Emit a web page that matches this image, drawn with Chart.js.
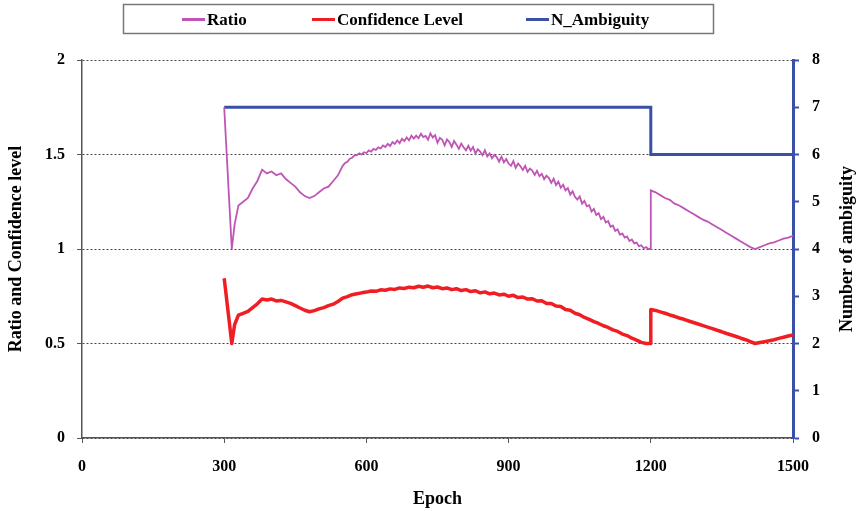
<!DOCTYPE html>
<html>
<head>
<meta charset="utf-8">
<script src="https://cdn.jsdelivr.net/npm/chart.js@4.4.1/dist/chart.umd.min.js"></script>
<style>
    html, body { margin: 0; padding: 0; background: #fff; }
    canvas { display: block; }
</style>
</head>
<body>
<canvas id="chart" width="857" height="511"></canvas>
<script>
// ratio curve (denser sampling where it is noisy)
var ratioEpochs = [
    300, 310, 316, 322, 330, 340, 350, 360, 370, 380, 390, 400, 410, 420, 430, 440, 450, 460, 470, 480,
    490, 500, 510, 520, 530, 540,
    550, 555, 560, 565, 570, 575, 580, 585, 590, 595,
    600, 605, 610, 615, 620, 625, 630, 635, 640, 645, 650, 655, 660, 665, 670, 675, 680, 685, 690, 695,
    700, 705, 710, 715, 720, 725, 730, 735, 740, 745, 750, 755, 760, 765, 770, 775, 780, 785, 790, 795,
    800, 805, 810, 815, 820, 825, 830, 835, 840, 845, 850, 855, 860, 865, 870, 875, 880, 885, 890, 895,
    900, 905, 910, 915, 920, 925, 930, 935, 940, 945, 950, 955, 960, 965, 970, 975, 980, 985, 990, 995,
    1000, 1005, 1010, 1015, 1020, 1025, 1030, 1035, 1040, 1045, 1050, 1055, 1060, 1065, 1070, 1075, 1080, 1085, 1090, 1095,
    1100, 1105, 1110, 1115, 1120, 1125, 1130, 1135, 1140, 1145, 1150, 1155, 1160, 1165, 1170, 1175, 1180, 1185, 1190, 1195,
    1199, 1200, 1210, 1220, 1230, 1240, 1250, 1260, 1270, 1280, 1290, 1300, 1310, 1320, 1330, 1340, 1350, 1360, 1370, 1380,
    1390, 1400, 1410, 1420, 1430, 1440, 1450, 1460, 1470, 1480, 1490, 1500
];

var ratio = [
    1.75, 1.28, 1.00, 1.13, 1.23, 1.25, 1.27, 1.32, 1.36, 1.42, 1.40, 1.41, 1.39, 1.40, 1.37, 1.35, 1.33, 1.30, 1.28, 1.27,
    1.28, 1.30, 1.32, 1.33, 1.36, 1.39,
    1.440, 1.455, 1.462, 1.478, 1.483, 1.496, 1.497, 1.506, 1.500, 1.512,
    1.508, 1.522, 1.515, 1.530, 1.524, 1.538, 1.532, 1.548, 1.540, 1.556, 1.545, 1.566, 1.556, 1.574, 1.560, 1.583, 1.571, 1.590, 1.575, 1.600,
    1.584, 1.600, 1.586, 1.610, 1.592, 1.598, 1.578, 1.612, 1.590, 1.602, 1.562, 1.588, 1.578, 1.548, 1.580, 1.566, 1.540, 1.572, 1.552, 1.530,
    1.558, 1.538, 1.522, 1.546, 1.520, 1.540, 1.505, 1.528, 1.515, 1.496, 1.522, 1.490, 1.506, 1.480, 1.498, 1.486, 1.462, 1.488, 1.458, 1.476,
    1.452, 1.440, 1.465, 1.430, 1.452, 1.438, 1.418, 1.440, 1.408, 1.426, 1.415, 1.392, 1.414, 1.385, 1.398, 1.370, 1.388, 1.375, 1.350, 1.372,
    1.338, 1.356, 1.324, 1.340, 1.310, 1.322, 1.288, 1.305, 1.276, 1.262, 1.278, 1.240, 1.254, 1.226, 1.232, 1.198, 1.212, 1.180, 1.190, 1.158,
    1.170, 1.140, 1.148, 1.118, 1.124, 1.096, 1.104, 1.075, 1.082, 1.060, 1.066, 1.042, 1.050, 1.030, 1.034, 1.015, 1.020, 1.004, 1.010, 1.000,
    1.00, 1.31, 1.30, 1.285, 1.27, 1.26, 1.24, 1.23, 1.215, 1.20, 1.185, 1.17, 1.155, 1.145, 1.13, 1.115, 1.10, 1.085, 1.07, 1.055,
    1.04, 1.025, 1.01, 1.00, 1.01, 1.02, 1.03, 1.035, 1.045, 1.055, 1.06, 1.07
];

// confidence level curve
var confEpochs = [
    300, 310, 316, 322, 330, 340, 350, 360, 370, 380, 390, 400, 410, 420, 430, 440, 450, 460, 470, 480,
    490, 500, 510, 520, 530, 540, 550, 560, 570, 580, 590, 600, 610, 620, 630, 640, 650, 660, 670, 680,
    690, 700, 710, 720, 730, 740, 750, 760, 770, 780, 790, 800, 810, 820, 830, 840, 850, 860, 870, 880,
    890, 900, 910, 920, 930, 940, 950, 960, 970, 980, 990, 1000, 1010, 1020, 1030, 1040, 1050, 1060, 1070, 1080,
    1090, 1100, 1110, 1120, 1130, 1140, 1150, 1160, 1170, 1180, 1190, 1199, 1200, 1210, 1220, 1230, 1240, 1250, 1260, 1270,
    1280, 1290, 1300, 1310, 1320, 1330, 1340, 1350, 1360, 1370, 1380, 1390, 1400, 1410, 1420, 1430, 1440, 1450, 1460, 1470,
    1480, 1490, 1500
];

var confidence = [
    0.845, 0.63, 0.50, 0.60, 0.65, 0.66, 0.67, 0.69, 0.71, 0.735, 0.73, 0.735, 0.725, 0.728, 0.72, 0.712, 0.70, 0.688, 0.676, 0.668,
    0.674, 0.683, 0.69, 0.70, 0.708, 0.722, 0.74, 0.748, 0.758, 0.763, 0.768, 0.772, 0.778, 0.776, 0.784, 0.782, 0.789, 0.786, 0.794, 0.791,
    0.798, 0.795, 0.803, 0.798, 0.804, 0.795, 0.799, 0.79, 0.794, 0.785, 0.79, 0.78, 0.785, 0.775, 0.779, 0.768, 0.773, 0.763, 0.767, 0.757,
    0.761, 0.75, 0.755, 0.743, 0.746, 0.735, 0.737, 0.725, 0.726, 0.712, 0.712, 0.698, 0.696, 0.68, 0.676, 0.66, 0.652, 0.638, 0.628, 0.616,
    0.606, 0.594, 0.585, 0.572, 0.564, 0.55, 0.542, 0.528, 0.518, 0.506, 0.50, 0.50, 0.68, 0.675, 0.667, 0.66, 0.651, 0.644, 0.635, 0.628,
    0.619, 0.611, 0.603, 0.595, 0.587, 0.579, 0.57, 0.562, 0.553, 0.545, 0.537, 0.528, 0.52, 0.51, 0.50, 0.505, 0.51, 0.515, 0.52, 0.527,
    0.533, 0.54, 0.545
];

// number of ambiguities (right axis), step at 1200
var ambEpochs = [300, 1200, 1200, 1500];
var ambValues = [7, 7, 6, 6];

var RATIO_COLOR = '#BF55B5';
var CONF_COLOR = '#F01E23';
var AMB_COLOR = '#3A50A8';
var AXIS_COLOR = '#555';
var FONT = '"Liberation Serif", "Times New Roman", serif';

function toPoints(xs, ys) {
    var out = [];
    for (var i = 0; i < xs.length; i++) {
        out.push({ x: xs[i], y: ys[i] });
    }
    return out;
}

var whiteBackground = {
    id: 'whiteBackground',
    beforeDraw: function (chart) {
        var c = chart.ctx;
        c.save();
        c.fillStyle = '#fff';
        c.fillRect(0, 0, chart.width, chart.height);
        c.restore();
    }
};

// boxed legend across the top, like the original
var boxedLegend = {
    id: 'boxedLegend',
    afterDraw: function (chart) {
        var c = chart.ctx;
        var lineX = [182, 312, 526];
        var y = 19.5;
        c.save();
        c.strokeStyle = '#777';
        c.lineWidth = 1.5;
        c.strokeRect(123.5, 4.5, 590, 29);
        c.font = 'bold 17px ' + FONT;
        c.textBaseline = 'middle';
        c.fillStyle = '#000';
        chart.data.datasets.forEach(function (ds, i) {
            c.strokeStyle = ds.borderColor;
            c.lineWidth = 3;
            c.beginPath();
            c.moveTo(lineX[i], y);
            c.lineTo(lineX[i] + 23, y);
            c.stroke();
            c.fillText(ds.label, lineX[i] + 25, y + 1);
        });
        c.restore();
    }
};

// right axis title reads bottom-to-top in the original
var rightTitle = {
    id: 'rightTitle',
    afterDraw: function (chart) {
        var c = chart.ctx;
        var area = chart.chartArea;
        c.save();
        c.translate(847, (area.top + area.bottom) / 2);
        c.rotate(-Math.PI / 2);
        c.font = 'bold 18px ' + FONT;
        c.fillStyle = '#000';
        c.textAlign = 'center';
        c.textBaseline = 'middle';
        c.fillText('Number of ambiguity', 0, 0);
        c.restore();
    }
};

var ctx = document.getElementById('chart').getContext('2d');
var chart = new Chart(ctx, {
    type: 'line',
    data: {
        datasets: [{
            label: 'Ratio',
            data: toPoints(ratioEpochs, ratio),
            borderColor: RATIO_COLOR,
            borderWidth: 1.8,
            yAxisID: 'y'
        }, {
            label: 'Confidence Level',
            data: toPoints(confEpochs, confidence),
            borderColor: CONF_COLOR,
            borderWidth: 3.5,
            borderJoinStyle: 'round',
            yAxisID: 'y'
        }, {
            label: 'N_Ambiguity',
            data: toPoints(ambEpochs, ambValues),
            borderColor: AMB_COLOR,
            borderWidth: 3,
            yAxisID: 'y1'
        }]
    },
    options: {
        responsive: false,
        animation: false,
        elements: {
            point: { radius: 0 },
            line: { tension: 0 }
        },
        layout: { padding: { top: 60 } },
        plugins: {
            legend: { display: false },
            tooltip: { enabled: false }
        },
        scales: {
            x: {
                type: 'linear',
                min: 0,
                max: 1500,
                ticks: {
                    stepSize: 300,
                    color: '#000',
                    padding: 14,
                    font: { family: FONT, size: 16, weight: 'bold' },
                    callback: function (v) { return String(v); }
                },
                grid: { drawOnChartArea: false, tickLength: 5, tickColor: AXIS_COLOR },
                border: { color: AXIS_COLOR, width: 1.5 },
                title: {
                    display: true,
                    text: 'Epoch',
                    color: '#000',
                    padding: { top: 0, bottom: 3 },
                    font: { family: FONT, size: 18, weight: 'bold', lineHeight: 1 }
                },
                afterFit: function (scale) { scale.height = 73; }
            },
            y: {
                position: 'left',
                min: 0,
                max: 2,
                ticks: {
                    stepSize: 0.5,
                    color: '#000',
                    padding: 12,
                    font: { family: FONT, size: 16, weight: 'bold' },
                    callback: function (v) { return String(v); }
                },
                grid: { color: '#444', lineWidth: 1, tickLength: 5, tickColor: AXIS_COLOR },
                border: { color: AXIS_COLOR, width: 1.5, dash: [2, 2] },
                title: {
                    display: true,
                    text: 'Ratio and Confidence level',
                    color: '#000',
                    padding: { top: 7, bottom: 0 },
                    font: { family: FONT, size: 18, weight: 'bold', lineHeight: 1 }
                },
                afterFit: function (scale) { scale.width = 82; }
            },
            y1: {
                position: 'right',
                min: 0,
                max: 8,
                ticks: {
                    stepSize: 1,
                    color: '#000',
                    padding: 13,
                    font: { family: FONT, size: 16, weight: 'bold' }
                },
                grid: { drawOnChartArea: false, tickLength: 6, tickWidth: 2, tickColor: AMB_COLOR },
                border: { color: AMB_COLOR, width: 3 },
                afterFit: function (scale) { scale.width = 64; }
            }
        }
    },
    plugins: [whiteBackground, boxedLegend, rightTitle]
});
</script>
</body>
</html>
